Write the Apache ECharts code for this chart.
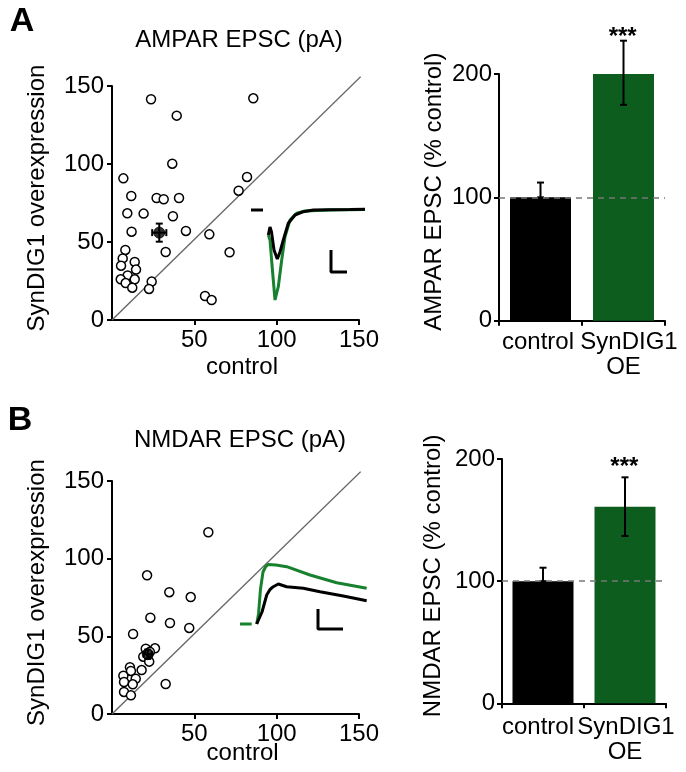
<!DOCTYPE html>
<html><head><meta charset="utf-8">
<script src="https://cdn.jsdelivr.net/npm/echarts@6/dist/echarts.min.js"></script>
<style>html,body{margin:0;padding:0;background:#fff}#c{width:686px;height:772px}</style>
</head><body><div id="c"></div>
<script>
// ---------- Panel A: AMPAR EPSC (pA) scatter ----------
const ampaControl = [23.7,39.3,85.8,36.6,6.9,82.0,76.9,11.7,27.1,31.4,40.7,9.3,19.2,37.0,11.9,44.9,59.1,8.1,32.6,71.4,6.5,13.8,5.5,14.6,9.5,13.8,5.3,8.3,24.1,12.3,22.5,56.5,60.5];
const ampaOE      = [141.5,131.0,142.1,100.2,90.8,91.7,82.9,79.5,78.2,77.4,78.2,68.4,68.2,66.5,56.6,57.1,54.9,44.9,43.6,43.4,39.5,37.2,34.8,32.3,28.6,26.1,26.1,23.7,24.6,20.7,19.9,15.4,12.8];
const ampaMean = [28.7, 56.0]; const ampaMeanErr = [4.3, 5.8];
// ---------- Panel B: NMDAR EPSC (pA) scatter ----------
const nmdaControl = [58.5,21.3,34.8,47.8,23.3,35.2,46.9,12.8,26.1,20.5,18.0,10.9,11.5,6.9,14.4,7.3,12.6,7.3,11.5,32.6,19.0,22.6,23.0];
const nmdaOE      = [117.0,89.3,78.4,75.3,62.0,58.6,55.4,51.5,42.3,42.0,28.3,30.1,27.7,24.7,22.7,20.6,19.1,14.2,12.0,19.3,36.9,33.7,40.0];
const nmdaMean = [21.7, 38.5]; const nmdaMeanErr = [2.5, 3.0];
// unity line as drawn
const unityX = [0, 151]; const unityY = [0, 156];
// ---------- Bar charts (% control) ----------
const barCategories = ['control', 'SynDIG1\nOE'];
const ampaPct = [100, 202]; const ampaPctLow = [100, 175]; const ampaPctHigh = [112, 227];
const nmdaPct = [100, 161]; const nmdaPctLow = [100, 137]; const nmdaPctHigh = [111, 185];
// ---------- Inset traces (arbitrary units) ----------
const trA_preT = [1, 13]; const trA_preV = [0, 0];
const trA_blackT = [18.3,20,21.5,24,27.3,30,33.3,38.3,45,53.3,63.3,80,100,115];
const trA_blackV = [-25,-17,-22,-40,-49,-42,-30,-13.3,-5,-1.7,0,0.3,0.5,0.7];
const trA_greenT = [18.3,20,22,25,26.5,28.3,31.7,35,40,46.7,55,80,115];
const trA_greenV = [-25,-30,-55,-90,-88,-76.7,-50,-26.7,-10,-3.3,-1,0,0.5];
const barA_T = [81, 81, 97]; const barA_V = [-40, -62, -62];
const trB_preT = [4, 15.7]; const trB_preV = [0, 0];
const trB_greenT = [20.7,22.5,24.5,27,29.5,32,34,40,50.7,74,100.7,130.7];
const trB_greenV = [0,10,35,52,57,59.5,60,59,57.3,49,41.3,35.7];
const trB_blackT = [20.7,22.3,26,30.7,34,37.3,42.3,50.7,67.3,84,107.3,130.7];
const trB_blackV = [0,-1,12,29,34.5,37.3,40,37.3,35.7,32.3,28,23.3];
const barB_T = [82, 82, 107]; const barB_V = [15, -5, -5];

const FONT = '"Liberation Sans", Arial, Helvetica, sans-serif';
const GREEN_BAR = '#0d5e1e', GREEN_TR = '#17812d';
const zip = (a, b) => a.map((v, i) => [v, b[i]]);

function scatterX(g) {
  return { gridIndex: g, type: 'value', min: 0, max: 150, interval: 50,
    axisLine: { show: true, onZero: false, lineStyle: { color: '#000', width: 2 } },
    axisTick: { show: true, length: 5, lineStyle: { color: '#000', width: 2 } },
    axisLabel: { showMinLabel: false, fontSize: 24, color: '#000', margin: 8, fontFamily: FONT },
    splitLine: { show: false } };
}
function scatterY(g) {
  return { gridIndex: g, type: 'value', min: 0, max: 150, interval: 50,
    axisLine: { show: true, onZero: false, lineStyle: { color: '#000', width: 2 } },
    axisTick: { show: true, length: 5, lineStyle: { color: '#000', width: 2 } },
    axisLabel: { fontSize: 24, color: '#000', margin: 8, fontFamily: FONT },
    splitLine: { show: false } };
}
function catLabel(v) {
  if (v.indexOf('\n') < 0) return '{c|' + v + '}';
  return v.split('\n').map((s, i) => i === 0 ? '{a|' + s + '}' : '{b|' + s + '}').join('\n');
}
function barX(g, margin, cPad, aPad) {
  const base = { fontSize: 24, lineHeight: 25, fontFamily: FONT, color: '#000' };
  return { gridIndex: g, type: 'category', data: barCategories,
    axisLine: { show: true, lineStyle: { color: '#000', width: 2 } },
    axisTick: { show: true, length: 5, alignWithLabel: false, lineStyle: { color: '#000', width: 2 } },
    axisLabel: { interval: 0, fontSize: 24, lineHeight: 25, color: '#000', margin: margin, fontFamily: FONT,
      formatter: catLabel,
      rich: { c: Object.assign({ padding: [0, cPad, 0, 0] }, base),
              a: Object.assign({ padding: [0, 0, 0, aPad] }, base),
              b: Object.assign({}, base) } } };
}
function barY(g) {
  return { gridIndex: g, type: 'value', min: 0, max: 200, interval: 100,
    axisLine: { show: true, lineStyle: { color: '#000', width: 2 } },
    axisTick: { show: true, length: 5, lineStyle: { color: '#000', width: 2 } },
    axisLabel: { fontSize: 24, color: '#000', margin: 7, fontFamily: FONT },
    splitLine: { show: false } };
}
function hiddenAxis(g, min, max) { return { gridIndex: g, type: 'value', min: min, max: max, show: false }; }

function meanErr(params, api) {
  const x = api.value(0), y = api.value(1), ex = api.value(2), ey = api.value(3);
  const l = api.coord([x - ex, y]), r = api.coord([x + ex, y]), t = api.coord([x, y + ey]), b = api.coord([x, y - ey]);
  const cap = 3.5, st = { stroke: '#000', lineWidth: 2 };
  return { type: 'group', children: [
    { type: 'line', shape: { x1: l[0], y1: l[1], x2: r[0], y2: r[1] }, style: st },
    { type: 'line', shape: { x1: l[0], y1: l[1] - cap, x2: l[0], y2: l[1] + cap }, style: st },
    { type: 'line', shape: { x1: r[0], y1: r[1] - cap, x2: r[0], y2: r[1] + cap }, style: st },
    { type: 'line', shape: { x1: t[0], y1: t[1], x2: b[0], y2: b[1] }, style: st },
    { type: 'line', shape: { x1: t[0] - cap, y1: t[1], x2: t[0] + cap, y2: t[1] }, style: st },
    { type: 'line', shape: { x1: b[0] - cap, y1: b[1], x2: b[0] + cap, y2: b[1] }, style: st }
  ] };
}
function barErr(params, api) {
  const i = api.value(0), lo = api.value(1), hi = api.value(2);
  const a = api.coord([i, lo]), b = api.coord([i, hi]);
  const cap = 3.5, st = { stroke: '#000', lineWidth: 2 };
  return { type: 'group', children: [
    { type: 'line', shape: { x1: a[0], y1: a[1], x2: b[0], y2: b[1] }, style: st },
    { type: 'line', shape: { x1: b[0] - cap, y1: b[1], x2: b[0] + cap, y2: b[1] }, style: st },
    { type: 'line', shape: { x1: a[0] - cap, y1: a[1], x2: a[0] + cap, y2: a[1] }, style: st }
  ] };
}

function scatterSeries(ax, xs, ys, mean, err) {
  return [
    { type: 'line', xAxisIndex: ax, yAxisIndex: ax, data: zip(unityX, unityY), showSymbol: false, clip: false,
      lineStyle: { color: '#666', width: 1.4 }, z: 1, silent: true },
    { type: 'scatter', xAxisIndex: ax, yAxisIndex: ax, data: zip(xs, ys), symbol: 'circle', symbolSize: 9,
      itemStyle: { color: '#fff', borderColor: '#000', borderWidth: 1.5, opacity: 1 }, z: 3 },
    { type: 'custom', xAxisIndex: ax, yAxisIndex: ax, data: [[mean[0], mean[1], err[0], err[1]]], renderItem: meanErr, z: 4 },
    { type: 'scatter', xAxisIndex: ax, yAxisIndex: ax, data: [mean], symbol: 'circle', symbolSize: 11,
      itemStyle: { color: '#000', borderColor: '#000', borderWidth: 1 }, z: 5 }
  ];
}
function barSeries(ax, vals, lows, highs) {
  return [
    { type: 'bar', xAxisIndex: ax, yAxisIndex: ax, barWidth: 61,
      data: vals.map((v, i) => ({ value: v, itemStyle: { color: i === 0 ? '#000' : GREEN_BAR } })),
      markLine: { silent: true, symbol: 'none', label: { show: false }, data: [{ yAxis: 100 }],
        lineStyle: { type: [6, 5], color: '#777', width: 1.5 } }, z: 2 },
    { type: 'custom', xAxisIndex: ax, yAxisIndex: ax, clip: false, data: vals.map((v, i) => [i, lows[i], highs[i]]),
      renderItem: barErr, z: 4 }
  ];
}
function trace(ax, t, v, color, w) {
  return { type: 'line', xAxisIndex: ax, yAxisIndex: ax, data: zip(t, v), showSymbol: false, clip: false,
    lineStyle: { color: color, width: w }, silent: true, z: 3 };
}

function txt(x, y, text, size, opts) {
  opts = opts || {};
  return { type: 'text', x: x, y: y, rotation: opts.rot || 0, silent: true,
    style: { text: text, fontSize: size, fontFamily: FONT, fontWeight: opts.bold ? 'bold' : 'normal',
      fill: '#000', align: 'center', verticalAlign: 'middle' } };
}

const chart = echarts.init(document.getElementById('c'), null, { renderer: 'canvas' });
chart.setOption({
  backgroundColor: '#fff',
  animation: false,
  grid: [
    { left: 112, top: 86, width: 247, height: 234 },
    { left: 499, top: 74, width: 166, height: 246.7 },
    { left: 250, top: 205, width: 116, height: 100 },
    { left: 112, top: 481, width: 247, height: 233 },
    { left: 502, top: 459, width: 164, height: 244.3 },
    { left: 236, top: 554, width: 132, height: 80 }
  ],
  xAxis: [scatterX(0), barX(1, 9, 5, 11), hiddenAxis(2, 0, 116), scatterX(3), barX(4, 12, 10, 2), hiddenAxis(5, 0, 132)],
  yAxis: [scatterY(0), barY(1), hiddenAxis(2, -95, 5), scatterY(3), barY(4), hiddenAxis(5, -10, 70)],
  series: [].concat(
    scatterSeries(0, ampaControl, ampaOE, ampaMean, ampaMeanErr),
    barSeries(1, ampaPct, ampaPctLow, ampaPctHigh),
    [trace(2, trA_preT, trA_preV, '#000', 3),
     trace(2, trA_greenT, trA_greenV, GREEN_TR, 3),
     trace(2, trA_blackT, trA_blackV, '#000', 3),
     trace(2, barA_T, barA_V, '#000', 3)],
    scatterSeries(3, nmdaControl, nmdaOE, nmdaMean, nmdaMeanErr),
    barSeries(4, nmdaPct, nmdaPctLow, nmdaPctHigh),
    [trace(5, trB_preT, trB_preV, GREEN_TR, 3),
     trace(5, trB_greenT, trB_greenV, GREEN_TR, 3),
     trace(5, trB_blackT, trB_blackV, '#000', 3),
     trace(5, barB_T, barB_V, '#000', 3)]
  ),
  graphic: [
    txt(22, 22, 'A', 34, { bold: true }),
    txt(20, 421, 'B', 34, { bold: true }),
    txt(239, 40, 'AMPAR EPSC (pA)', 24),
    txt(240, 440, 'NMDAR EPSC (pA)', 24),
    txt(37.6, 198, 'SynDIG1 overexpression', 24, { rot: Math.PI / 2 }),
    txt(37.6, 592.5, 'SynDIG1 overexpression', 24, { rot: Math.PI / 2 }),
    txt(242, 367, 'control', 24),
    txt(242.6, 753, 'control', 24),
    txt(434.5, 191.7, 'AMPAR EPSC (% control)', 24, { rot: Math.PI / 2 }),
    txt(433, 575.8, 'NMDAR EPSC (% control)', 24, { rot: Math.PI / 2 }),
    txt(622.7, 37, '***', 24, { bold: true }),
    txt(624.3, 467, '***', 24, { bold: true })
  ]
});
</script></body></html>
